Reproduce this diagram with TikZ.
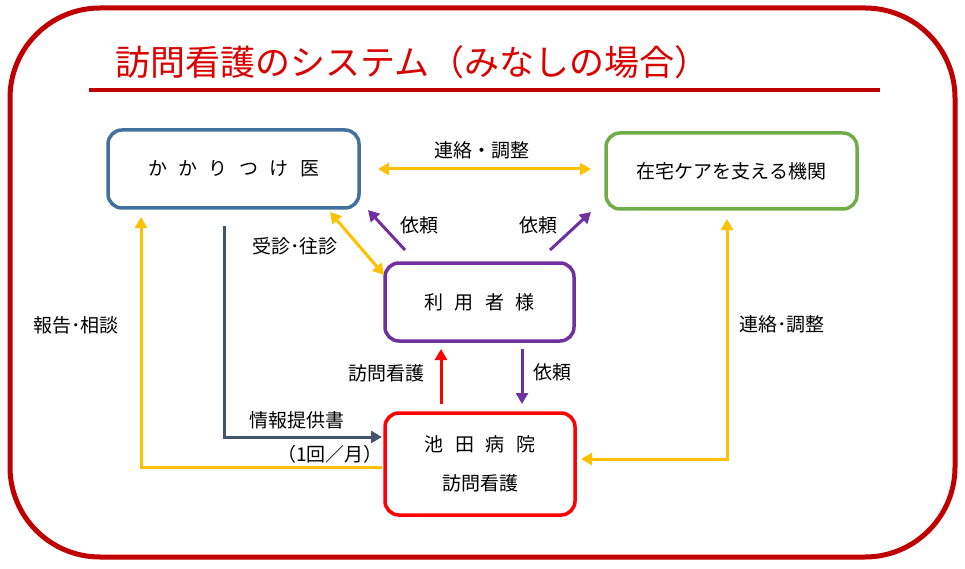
\documentclass[tikz,border=0pt]{standalone}
\usepackage{fontspec}
\setmainfont{Noto Sans CJK JP}
\usetikzlibrary{arrows.meta}
\definecolor{framered}{HTML}{C00000}
\definecolor{titlered}{RGB}{218,0,0}
\definecolor{docblue}{HTML}{41719C}
\definecolor{caregreen}{HTML}{70AD47}
\definecolor{userpurple}{HTML}{7030A0}
\definecolor{hospred}{HTML}{FF0000}
\definecolor{linkyellow}{HTML}{FFC000}
\definecolor{slate}{HTML}{44546A}
\newcommand{\jsp}{\hspace{0.6em}}
\tikzset{
  box/.style={draw, line width=3.5pt, rounded corners=14pt, fill=white, inner sep=0pt,
    font=\fontsize{19}{39}\selectfont, align=center},
  lbl/.style={font=\fontsize{19}{22}\selectfont, inner sep=0pt},
  conn/.style={line width=3pt, arrows={-Triangle[length=11pt,width=12pt]}},
  dconn/.style={line width=3pt, arrows={Triangle[length=11pt,width=12pt]-Triangle[length=11pt,width=12pt]}}
}
\begin{document}
\begin{tikzpicture}[x=1pt,y=-1pt]
\useasboundingbox (0,0) rectangle (965,569);
\draw[framered, line width=5pt, rounded corners=90pt] (10,8) rectangle (955,557);
\node[titlered, font=\fontsize{35}{40}\selectfont, inner sep=0pt] (title) at (412,62) {訪問看護のシステム（みなしの場合）};
\draw[framered, line width=3.5pt] (89,90) -- (880,90);

\node[box, draw=docblue, minimum width=251pt, minimum height=78pt] (doc) at (233.5,169) {か\jsp か\jsp り\jsp つ\jsp け\jsp 医};
\node[box, draw=caregreen, minimum width=251pt, minimum height=76pt] (care) at (731.5,171) {在宅ケアを支える機関};
\node[box, draw=userpurple, minimum width=189pt, minimum height=78pt] (user) at (479.5,302) {利\jsp 用\jsp 者\jsp 様};
\node[box, draw=hospred, minimum width=190pt, minimum height=102pt] (hosp) at (480,464) {\raisebox{-3pt}{池\jsp 田\jsp 病\jsp 院}\\\raisebox{-3pt}{訪問看護}};

% endpoints
\coordinate (h1) at (378,169);
\coordinate (h2) at (591,169);
\coordinate (pl1) at (405,250);
\coordinate (pl2) at (368,210);
\coordinate (pr1) at (550,250);
\coordinate (pr2) at (591,212);
\coordinate (j1) at (330,212);
\coordinate (j2) at (384,275);
\coordinate (r1) at (441,404);
\coordinate (r2) at (441,349);
\coordinate (v1) at (522,349);
\coordinate (v2) at (522,404);
\coordinate (s1) at (224,226);
\coordinate (s2) at (382,437);
\coordinate (y1) at (382,467);
\coordinate (y2) at (141,217);
\coordinate (c1) at (581,459);
\coordinate (c2) at (727,219);

\draw[dconn, linkyellow] (h1) -- (h2);
\draw[conn, userpurple] (pl1) -- (pl2);
\draw[conn, userpurple] (pr1) -- (pr2);
\draw[dconn, linkyellow] (j1) -- (j2);
\draw[conn, hospred] (r1) -- (r2);
\draw[conn, userpurple] (v1) -- (v2);
\draw[conn, slate] (s1) |- (s2);
\draw[conn, linkyellow] (y1) -| (y2);
\draw[dconn, linkyellow] (c1) -| (c2);

\node[lbl] (l1) at (482,150) {連絡・調整};
\node[lbl] (l2) at (419,225) {依頼};
\node[lbl] (l3) at (538,225) {依頼};
\node[lbl] (l4) at (295,246) {受診･往診};
\node[lbl] (l5) at (386,373) {訪問看護};
\node[lbl] (l6) at (552,372) {依頼};
\node[lbl] (l7) at (297,420) {情報提供書};
\node[lbl] (l8) at (330,454) {（1回／月）};
\node[lbl] (l9) at (76,325) {報告･相談};
\node[lbl] (l10) at (782,324) {連絡･調整};
\end{tikzpicture}
\end{document}
